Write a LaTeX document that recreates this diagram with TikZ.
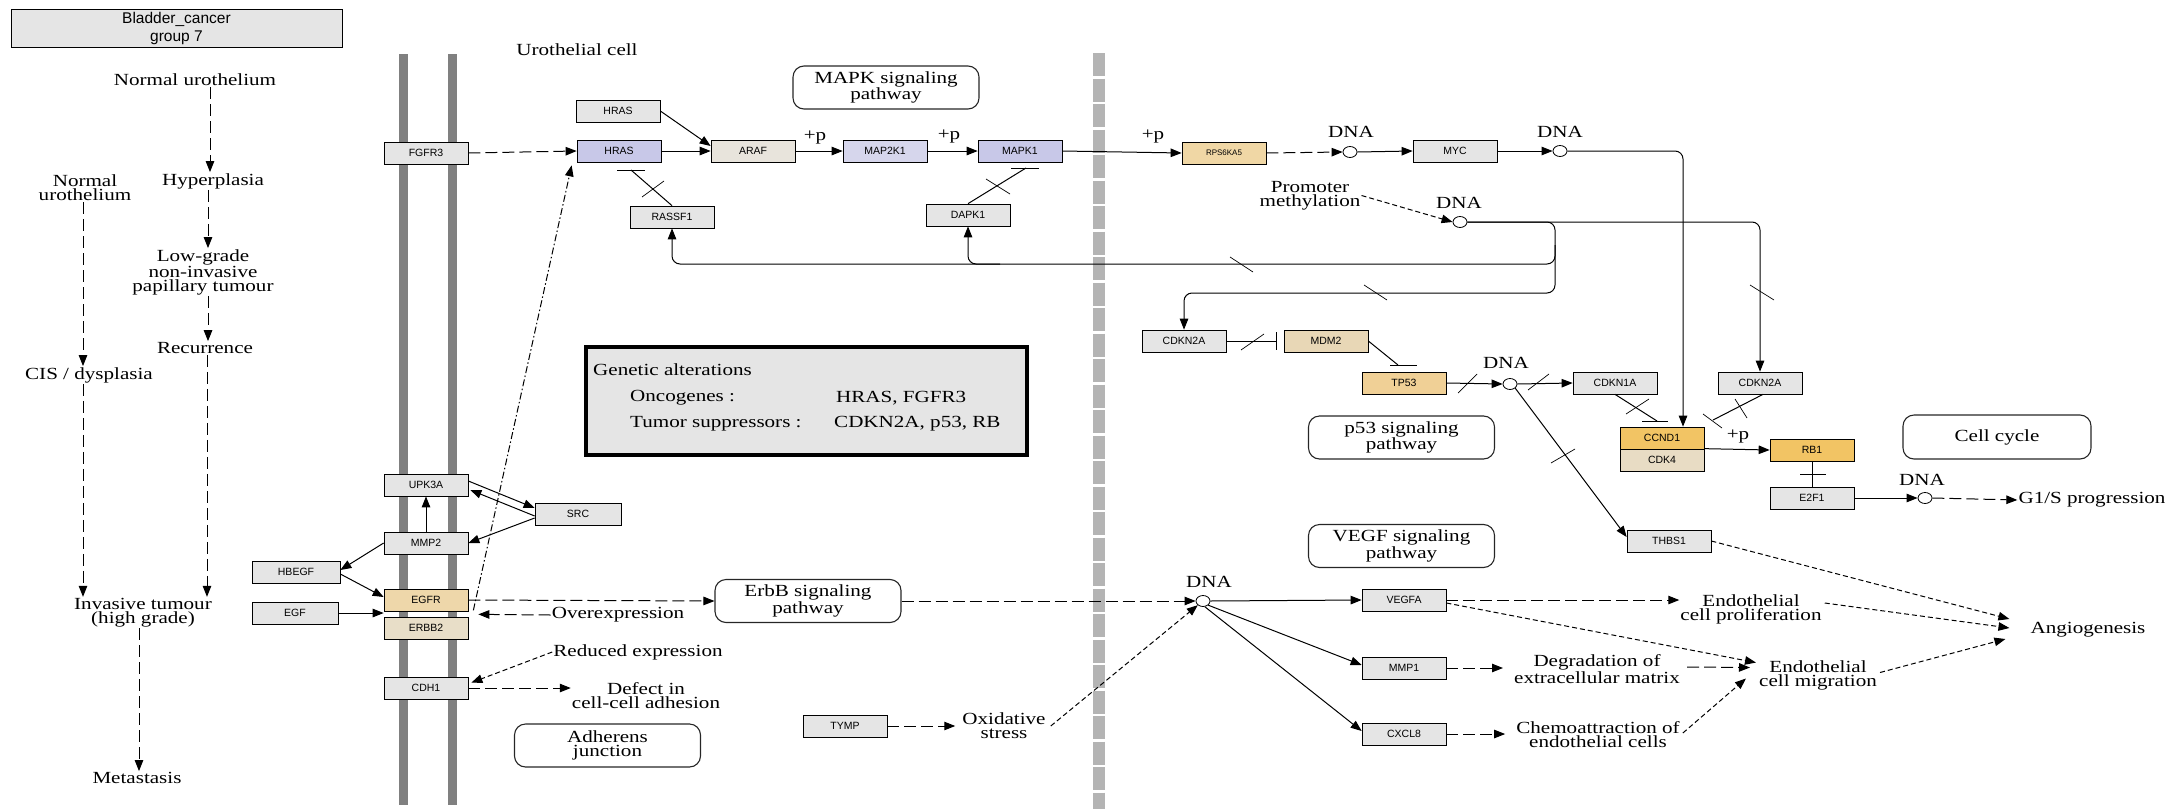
\documentclass[tikz,border=0pt]{standalone}
\usepackage{fontspec}
\setmainfont{Liberation Serif}[FakeStretch=1.24]
\newfontfamily\gsans{Liberation Sans}
\usetikzlibrary{arrows.meta,shapes.geometric,calc,shadows}
\definecolor{gfill}{RGB}{229,229,229}
\definecolor{hblue}{RGB}{200,200,232}
\definecolor{mek}{RGB}{214,214,236}
\definecolor{araf}{RGB}{232,228,220}
\definecolor{egfr}{RGB}{238,215,170}
\definecolor{erbb}{RGB}{232,222,200}
\definecolor{rps}{RGB}{240,215,165}
\definecolor{mdm}{RGB}{232,215,182}
\definecolor{tp}{RGB}{240,208,150}
\definecolor{ccnd}{RGB}{242,196,100}
\definecolor{cdk}{RGB}{232,220,196}
\definecolor{memb}{RGB}{128,128,128}
\definecolor{barg}{RGB}{180,180,180}
\begin{document}
\begin{tikzpicture}[x=1pt,y=-1pt,
  >={Triangle[length=11pt,width=8.5pt]},
  gene/.style={draw=black, line width=0.7pt, fill=gfill, minimum width=84pt, minimum height=22pt,
    inner sep=0pt, font=\gsans\fontsize{10.5}{12}\selectfont,
    drop shadow={shadow xshift=1.4pt, shadow yshift=-1.4pt, opacity=1, fill=black!85}},
  dna/.style={ellipse, draw=black, line width=0.8pt, fill=white, minimum width=14pt, minimum height=11pt, inner sep=0pt},
  txt/.style={font=\fontsize{17}{14}\selectfont, align=center, inner sep=1pt},
  pw/.style={draw=black!85, line width=1.1pt, rounded corners=11pt, minimum width=186pt, minimum height=43pt,
    align=center, font=\fontsize{17}{14}\selectfont, inner sep=0pt},
  conn/.style={line width=1pt},
  dl/.style={conn, dash pattern=on 12pt off 5pt},
  ds/.style={conn, dash pattern=on 5pt off 3pt},
  dd/.style={conn, dash pattern=on 7pt off 2.5pt on 1.5pt off 2.5pt},
  tick/.style={line width=0.7pt}
]
\useasboundingbox (0,0) rectangle (2178,811);

% title
\node[draw=black, line width=0.8pt, fill=gfill, minimum width=331pt, minimum height=38pt, align=center,
  font=\gsans\fontsize{15.5}{18}\selectfont, inner sep=0pt] (title) at (176.5,28) {Bladder\_cancer\\group 7};

% membrane and border
\fill[memb] (398.5,54) rectangle (407.5,805);
\fill[memb] (447.5,54) rectangle (456.5,805);
\draw[line width=12pt, barg, dash pattern=on 23pt off 2.5pt] (1099,53) -- (1099,809);

% left column texts
\node[txt] (nu1) at (195,80) {Normal urothelium};
\node[txt] (hyp) at (213,181) {Hyperplasia};
\node[txt] (nu2) at (85,188) {Normal\\urothelium};
\node[txt] (lowgrade) at (203,272) {Low-grade\\non-invasive\\papillary tumour};
\node[txt] (recur) at (205,348) {Recurrence};
\node[txt] (cis) at (89,375) {CIS / dysplasia};
\node[txt] (invasive) at (143,612.5) {Invasive tumour\\(high grade)};
\node[txt] (meta) at (137,778) {Metastasis};

\draw[dl,->] ([xshift=15pt]nu1.south) -- ([xshift=-3pt]hyp.north);
\draw[dl,->] ([xshift=-5pt]hyp.south) -- ([xshift=5pt]lowgrade.north);
\draw[dl,->] ([xshift=5pt]lowgrade.south) -- ([xshift=3pt]recur.north);
\draw[dl,->] ([xshift=2pt]recur.south) -- ([xshift=64pt]invasive.north);
\draw[dl,->] ([xshift=-2pt]nu2.south) -- ([xshift=-6pt]cis.north);
\draw[dl,->] ([xshift=-6pt]cis.south) -- ([xshift=-60pt]invasive.north);
\draw[dl,->] ([xshift=-4pt]invasive.south) -- ([xshift=2pt]meta.north);

% other texts
\node[txt] (uro) at (577,50) {Urothelial cell};
\node[pw] (mapk) at (886,87.5) {MAPK signaling\\pathway};
\node[pw] (erbbp) at (808,601) {ErbB signaling\\pathway};
\node[pw] (adh) at (607.5,745.5) {Adherens\\junction};
\node[pw] (p53p) at (1401.5,437.5) {p53 signaling\\pathway};
\node[pw] (vegfp) at (1401.5,546) {VEGF signaling\\pathway};
\node[pw, minimum width=188pt, minimum height=44pt] (cc) at (1997,437) {Cell cycle};

\node[draw=black, line width=3.5pt, fill=gfill, minimum width=441pt, minimum height=108pt, inner sep=0pt] (gab) at (806.5,401) {};
\node[txt, anchor=west] (ga1) at (592,370) {Genetic alterations};
\node[txt, anchor=west] (ga2) at (629,398) {Oncogenes :};
\node[txt, anchor=west] (ga3) at (835,398) {HRAS, FGFR3};
\node[txt, anchor=west] (ga4) at (629,424) {Tumor suppressors :};
\node[txt, anchor=west] (ga5) at (833,424) {CDKN2A, p53, RB};

\node[txt] (overexp) at (618,615) {Overexpression};
\node[txt] (redexp) at (638,652) {Reduced expression};
\node[txt] (defect) at (646,695.5) {Defect in\\cell-cell adhesion};
\node[txt] (ox) at (1004,726) {Oxidative\\stress};
\node[txt] (promo) at (1310,195.5) {Promoter\\methylation};
\node[txt] (degr) at (1597,669) {Degradation of\\extracellular matrix};
\node[txt] (chemo) at (1598,735) {Chemoattraction of\\endothelial cells};
\node[txt] (prolif) at (1751,609) {Endothelial\\cell proliferation};
\node[txt] (migr) at (1818,675.5) {Endothelial\\cell migration};
\node[txt] (angio) at (2088,630) {Angiogenesis};
\node[txt] (g1s) at (2092,500) {G1/S progression};

% genes
\node[gene] (FGFR3) at (426,153) {FGFR3};
\node[gene] (UPK3A) at (426,485) {UPK3A};
\node[gene] (MMP2) at (426,543) {MMP2};
\node[gene, minimum width=88pt] (HBEGF) at (296,572) {HBEGF};
\node[gene, fill=egfr] (EGFR) at (426,600) {EGFR};
\node[gene, fill=erbb] (ERBB2) at (426,628) {ERBB2};
\node[gene, minimum width=86pt] (EGF) at (295,613) {EGF};
\node[gene] (CDH1) at (426,688) {CDH1};
\node[gene, minimum width=86pt] (SRC) at (578,514) {SRC};
\node[gene] (HRASg) at (618,111) {HRAS};
\node[gene, fill=hblue] (HRASb) at (619,151) {HRAS};
\node[gene, fill=araf] (ARAF) at (753,151) {ARAF};
\node[gene, fill=mek] (MAP2K1) at (885,151) {MAP2K1};
\node[gene, fill=hblue] (MAPK1) at (1020,151) {MAPK1};
\node[gene] (RASSF1) at (672,217) {RASSF1};
\node[gene] (DAPK1) at (968,215) {DAPK1};
\node[gene, fill=rps, font=\gsans\fontsize{8}{9}\selectfont] (RPS6KA5) at (1224,153) {RPS6KA5};
\node[gene] (MYC) at (1455,151) {MYC};
\node[gene] (CDKN2Aa) at (1184,341) {CDKN2A};
\node[gene, fill=mdm] (MDM2) at (1326,341) {MDM2};
\node[gene, fill=tp] (TP53) at (1404,383) {TP53};
\node[gene] (CDKN1A) at (1615,383) {CDKN1A};
\node[gene] (CDKN2Ab) at (1760,383) {CDKN2A};
\node[gene, fill=ccnd] (CCND1) at (1662,438) {CCND1};
\node[gene, fill=cdk] (CDK4) at (1662,460) {CDK4};
\node[gene, fill=ccnd] (RB1) at (1812,450) {RB1};
\node[gene] (E2F1) at (1812,498) {E2F1};
\node[gene] (THBS1) at (1669,541) {THBS1};
\node[gene] (VEGFA) at (1404,600) {VEGFA};
\node[gene] (MMP1) at (1404,668) {MMP1};
\node[gene] (CXCL8) at (1404,734) {CXCL8};
\node[gene] (TYMP) at (845,726) {TYMP};

% DNA
\node[dna] (d1) at (1350,152) {};
\node[dna] (d2) at (1560,151) {};
\node[dna] (d3) at (1460,222) {};
\node[dna] (d4) at (1510,384) {};
\node[dna] (d5) at (1925,498) {};
\node[dna] (d6) at (1203,601) {};
\node[txt] (d1l) at (1351,132) {DNA};
\node[txt] (d2l) at (1560,132) {DNA};
\node[txt] (d3l) at (1459,203) {DNA};
\node[txt] (d4l) at (1506,363) {DNA};
\node[txt] (d5l) at (1922,480) {DNA};
\node[txt] (d6l) at (1209,582) {DNA};

% +p labels
\node[txt] (p1) at (815,138) {+p};
\node[txt] (p2) at (949,137) {+p};
\node[txt] (p3) at (1153,137) {+p};
\node[txt] (p4) at (1738,437) {+p};

% top row connectors
\draw[dl,->] (FGFR3.east) -- (HRASb.west);
\draw[conn,->] (HRASg.east) -- ($(ARAF.west)+(0,-5)$);
\draw[conn,->] (HRASb.east) -- (ARAF.west);
\draw[conn,->] (ARAF.east) -- (MAP2K1.west);
\draw[conn,->] (MAP2K1.east) -- (MAPK1.west);
\draw[conn,->] (MAPK1.east) -- (RPS6KA5.west);
\draw[dl,->] (RPS6KA5.east) -- (d1.west);
\draw[conn,->] (d1.east) -- (MYC.west);
\draw[conn,->] (MYC.east) -- (d2.west);
\draw[conn,rounded corners=8pt,->] (d2.east) -| ($(CCND1.north)+(21,0)$);

% RASSF1 -| HRAS, DAPK1 -| MAPK1
\coordinate (hbar) at (631,170);
\draw[conn] (RASSF1.north) -- (hbar);
\draw[tick] (617,170) -- (645,170);
\draw[tick] (642,197) -- (664,181);
\coordinate (mbar) at (1026,168);
\draw[conn] (DAPK1.north) -- (mbar);
\draw[tick] (1011,168) -- (1039,168);
\draw[tick] (986,179) -- (1010,194);

% promoter methylation
\draw[ds,->] (promo.east) -- (d3.west);
\coordinate (jA) at (1555,222);
\coordinate (jB) at (1555,293);
\coordinate (jC) at (1555,264);
\draw[conn,rounded corners=8pt,->] (d3.east) -| (CDKN2Ab.north);
\draw[tick] (1750,285) -- (1774,300);
\draw[conn,rounded corners=8pt,->] (d3.east) -- (jA) -- (jB) -| (CDKN2Aa.north);
\draw[conn,rounded corners=8pt,->] (1555,245) -- (jC) -| (RASSF1.south);
\draw[conn,rounded corners=8pt,->] (1000,264) -| (DAPK1.south);
\draw[tick] (1230,257) -- (1253,272);
\draw[tick] (1364,285) -- (1387,300);

% p53 part
\draw[conn] (CDKN2Aa.east) -- (1276,341);
\draw[tick] (1276,332) -- (1276,350);
\draw[tick] (1241,350) -- (1264,334);
\draw[conn] (MDM2.east) -- (1398,365);
\draw[tick] (1390,365) -- (1417,365);
\draw[conn,->] (TP53.east) -- (d4.west);
\draw[tick] (1458,393) -- (1477,374);
\draw[conn,->] (d4.east) -- (CDKN1A.west);
\draw[tick] (1528,390) -- (1549,374);
\draw[conn,->] (d4.south east) -- ($(THBS1.west)+(0,-4)$);
\draw[tick] (1551,463) -- (1575,449);
\draw[conn] (CDKN1A.south) -- (1657,421);
\draw[tick] (1642,421) -- (1668,421);
\draw[tick] (1626,414) -- (1649,399);
\draw[conn] ($(CDKN2Ab.south)+(3,0)$) -- (1713,420);
\draw[tick] (1703,414) -- (1722,428);
\draw[tick] (1735,399) -- (1747,418);
\draw[conn,->] (CDK4.north east) -- (RB1.west);
\draw[conn] (RB1.south) -- (E2F1.north);
\draw[tick] (1800,474) -- (1826,474);
\draw[conn,->] (E2F1.east) -- (d5.west);
\draw[dl,->] (d5.east) -- (g1s.west);

% membrane connectors
\draw[conn,->] ($(UPK3A.east)+(0,-4)$) -- ($(SRC.west)+(0,-6)$);
\draw[conn,->] ($(SRC.west)+(0,2)$) -- ($(UPK3A.east)+(2,5)$);
\draw[conn,->] ($(SRC.west)+(0,4)$) -- (MMP2.east);
\draw[conn,->] (MMP2.north) -- (UPK3A.south);
\draw[conn,->] (MMP2.west) -- ($(HBEGF.east)+(0,-2)$);
\draw[conn,->] ($(HBEGF.east)+(0,2)$) -- ($(EGFR.west)+(0,-3)$);
\draw[conn,->] (EGF.east) -- (EGFR.west |- EGF.east);
\draw[dd,->] ($(EGFR.south east)+(5,-1)$) -- ($(HRASb.south west)+(-5,3)$);
\draw[dl,->] (EGFR.east) -- (erbbp.west);
\draw[dl,->] (overexp.west) -- ($(EGFR.south east)+(10,3)$);
\draw[ds,->] (redexp.west) -- ($(CDH1.north east)+(3,6)$);
\draw[dl,->] (CDH1.east) -- (defect.west |- CDH1.east);

% VEGF part
\draw[dl,->] (erbbp.east) -- (d6.west);
\draw[conn,->] (d6.east) -- (VEGFA.west);
\draw[conn,->] (d6.south east) -- ($(MMP1.west)+(0,-3)$);
\draw[conn,->] ($(d6.south)+(2,0)$) -- ($(CXCL8.west)+(0,-3)$);
\draw[dl,->] (TYMP.east) -- ($(ox.west)+(-6,0)$);
\draw[ds,->] ($(ox.east)+(4,0)$) -- (d6.south west);
\draw[dl,->] (MMP1.east) -- ($(degr.west)+(-10,-1)$);
\draw[dl,->] (CXCL8.east) -- ($(chemo.west)+(-10,-1)$);
\draw[dl,->] (VEGFA.east) -- (prolif.west |- VEGFA.east);
\draw[ds,->] ($(VEGFA.east)+(0,3)$) -- ($(migr.north west)+(-2,3)$);
\draw[dl,->] ($(degr.east)+(6,-2)$) -- ($(migr.west)+(-8,-8)$);
\draw[ds,->] ($(chemo.east)+(2,-2)$) -- ($(migr.west)+(-12,3)$);
\draw[ds,->] (THBS1.east) -- ($(angio.west)+(-20,-11)$);
\draw[ds,->] ($(prolif.east)+(2,-6)$) -- ($(angio.west)+(-20,-2)$);
\draw[ds,->] ($(migr.east)+(2,-3)$) -- ($(angio.west)+(-24,9)$);
\end{tikzpicture}
\end{document}
